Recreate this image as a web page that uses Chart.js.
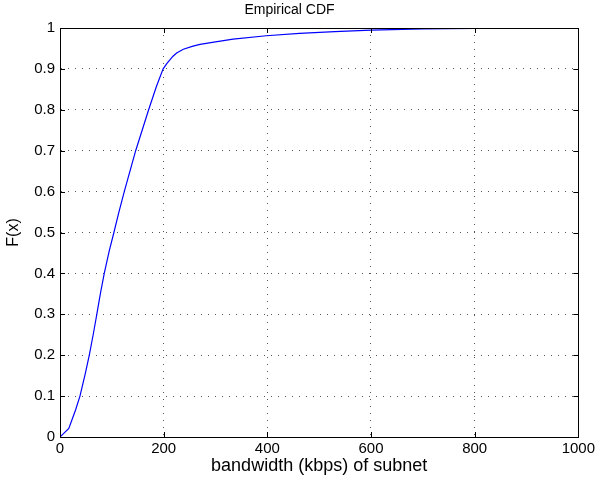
<!DOCTYPE html>
<html>
<head>
<meta charset="utf-8">
<script src="https://cdn.jsdelivr.net/npm/chart.js@4/dist/chart.umd.min.js"></script>
<style>
  html, body { margin: 0; padding: 0; background: #fff; }
  #wrap { width: 598px; height: 485px; }
</style>
</head>
<body>
<div id="wrap"><canvas id="cdf" width="598" height="485"></canvas></div>
<script>
// bandwidth (kbps)
const bandwidth = [0, 17, 30, 38.5, 49, 56.5, 64, 71, 78, 85.4, 95, 104, 113, 124, 146, 171, 186, 199, 206, 212, 218, 225, 238, 255, 270, 300, 334, 398, 462, 530, 600, 700, 800, 1000];
// F(x)
const cdf = [0, 0.021, 0.066, 0.10, 0.156, 0.2, 0.25, 0.3, 0.351, 0.4, 0.455, 0.5, 0.547, 0.6, 0.7, 0.8, 0.857, 0.9, 0.913, 0.922, 0.931, 0.939, 0.948, 0.955, 0.960, 0.966, 0.973, 0.981, 0.987, 0.991, 0.995, 0.998, 0.999, 1.0];
const xTicks = [0, 200, 400, 600, 800, 1000];
const yTicks = [0, 0.1, 0.2, 0.3, 0.4, 0.5, 0.6, 0.7, 0.8, 0.9, 1];

const FONT = "'Liberation Sans', Arial, Helvetica, sans-serif";

// matlab style box around the axes, with inward tick marks
const boxPlugin = {
  id: "box",
  afterDraw(chart) {
    const { ctx, chartArea: a, scales } = chart;
    ctx.save();
    ctx.strokeStyle = "#000";
    ctx.lineWidth = 1;
    ctx.beginPath();
    xTicks.forEach(v => {
      const x = Math.round(scales.x.getPixelForValue(v)) + 0.5;
      ctx.moveTo(x, a.bottom); ctx.lineTo(x, a.bottom - 5);
      ctx.moveTo(x, a.top); ctx.lineTo(x, a.top + 5);
    });
    yTicks.forEach(v => {
      const y = Math.round(scales.y.getPixelForValue(v)) + 0.5;
      ctx.moveTo(a.left, y); ctx.lineTo(a.left + 5, y);
      ctx.moveTo(a.right, y); ctx.lineTo(a.right - 5, y);
    });
    ctx.stroke();
    ctx.strokeRect(Math.round(a.left) + 0.5, Math.round(a.top) + 0.5,
      Math.round(a.right - a.left), Math.round(a.bottom - a.top));
    ctx.restore();
  }
};

new Chart(document.getElementById("cdf").getContext("2d"), {
  type: "scatter",
  data: {
    datasets: [{
      data: bandwidth.map((b, i) => ({ x: b, y: cdf[i] })),
      showLine: true,
      borderColor: "#0000ff",
      borderWidth: 1.2,
      pointRadius: 0,
      tension: 0
    }]
  },
  options: {
    responsive: false,
    animation: false,
    layout: { padding: { left: 0, right: 19, top: 0, bottom: 0 } },
    plugins: {
      legend: { display: false },
      tooltip: { enabled: false },
      title: {
        display: true,
        text: "Empirical CDF",
        color: "#000",
        font: { family: FONT, size: 14, weight: "normal" },
        padding: { top: 2, bottom: 9.2 }
      }
    },
    scales: {
      x: {
        type: "linear",
        min: 0, max: 1000,
        afterFit: s => { s.height = 48; },
        afterBuildTicks: s => { s.ticks = xTicks.map(v => ({ value: v })); },
        ticks: {
          color: "#000",
          font: { family: FONT, size: 15 },
          padding: 3,
          maxRotation: 0,
          callback: v => String(v)
        },
        grid: { color: "#555", drawTicks: false, lineWidth: 1 },
        border: { color: "#000", width: 1, dash: [1, 6] },
        title: {
          display: true,
          text: "bandwidth (kbps) of subnet",
          color: "#000",
          font: { family: FONT, size: 18 },
          padding: { top: 0, bottom: 8 }
        }
      },
      y: {
        type: "linear",
        min: 0, max: 1,
        afterFit: s => { s.width = 60; },
        afterBuildTicks: s => { s.ticks = yTicks.map(v => ({ value: v })); },
        ticks: {
          color: "#000",
          font: { family: FONT, size: 15 },
          padding: 5,
          callback: v => String(Math.round(v * 10) / 10)
        },
        grid: { color: "#555", drawTicks: false, lineWidth: 1 },
        border: { color: "#000", width: 1, dash: [1, 6] },
        title: {
          display: true,
          text: "F(x)",
          color: "#000",
          font: { family: FONT, size: 16 },
          padding: { top: 4, bottom: 0 }
        }
      }
    }
  },
  plugins: [boxPlugin]
});
</script>
</body>
</html>
